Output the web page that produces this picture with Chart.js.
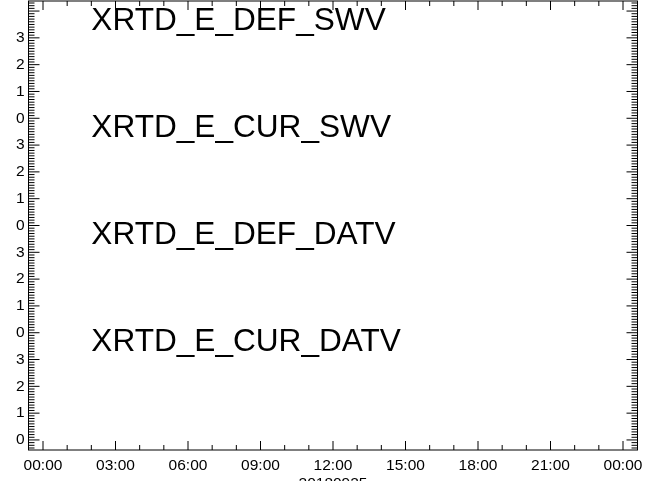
<!DOCTYPE html>
<html>
<head>
<meta charset="utf-8">
<title>XRTD status</title>
<script src="https://cdn.jsdelivr.net/npm/chart.js@4/dist/chart.umd.min.js"></script>
<style>
    html, body { margin: 0; padding: 0; background: #fff; }
    #wrap { width: 660px; height: 481px; position: relative; }
</style>
</head>
<body>
<div id="wrap"><canvas id="statusChart"></canvas></div>
<script>
// panels from bottom to top, each one spans 4 units of the y axis
const panelNames = ['XRTD_E_CUR_DATV', 'XRTD_E_DEF_DATV', 'XRTD_E_CUR_SWV', 'XRTD_E_DEF_SWV'];
const hourTicks = [0, 3, 6, 9, 12, 15, 18, 21, 24];
const hourLabels = ['00:00', '03:00', '06:00', '09:00', '12:00', '15:00', '18:00', '21:00', '00:00'];
const levelTicks = [0, 1, 2, 3, 4, 5, 6, 7, 8, 9, 10, 11, 12, 13, 14, 15, 16];
const levelLabels = ['0', '1', '2', '3'];
const dayLabel = '20180925';

// each panel has no samples for this day
const panelValues = [[], [], [], []];

document.addEventListener('DOMContentLoaded', function () {
    const ctx = document.getElementById('statusChart');
    const font = 'Liberation Sans, Arial, Helvetica, sans-serif';

    Chart.defaults.font.family = font;
    Chart.defaults.color = '#000';

    // inward ticks on all four sides, plus the panel names
    const framePlugin = {
        id: 'frame',
        afterDraw(chart) {
            const c = chart.ctx;
            const a = chart.chartArea;
            const xs = chart.scales.x;
            const ys = chart.scales.y;

            c.save();
            c.strokeStyle = '#000';
            c.lineWidth = 1;
            c.strokeRect(a.left, a.top, a.right - a.left, a.bottom - a.top);

            c.beginPath();
            for (let h = Math.ceil(xs.min); h <= xs.max; h++) {
                const x = xs.getPixelForValue(h);
                const len = hourTicks.includes(h) ? 9 : 5;
                c.moveTo(x, a.bottom); c.lineTo(x, a.bottom - len);
                c.moveTo(x, a.top); c.lineTo(x, a.top + len);
            }
            for (let k = Math.ceil(ys.min * 10); k <= Math.floor(ys.max * 10); k++) {
                const y = ys.getPixelForValue(k / 10);
                const len = k % 10 === 0 ? 11 : 6;
                c.moveTo(a.left, y); c.lineTo(a.left + len, y);
                c.moveTo(a.right, y); c.lineTo(a.right - len, y);
            }
            c.stroke();

            c.fillStyle = '#000';
            c.font = '31.6px ' + font;
            c.textBaseline = 'alphabetic';
            c.textAlign = 'left';
            panelNames.forEach((name, i) => {
                c.fillText(name, xs.getPixelForValue(2), ys.getPixelForValue(i * 4 + 3.3));
            });
            c.restore();
        }
    };

    new Chart(ctx, {
        type: 'scatter',
        data: {
            datasets: panelNames.map((name, i) => ({
                label: name,
                data: panelValues[i].map(p => ({ x: p[0], y: i * 4 + p[1] })),
                borderColor: '#000',
                backgroundColor: '#000',
                pointRadius: 1
            }))
        },
        options: {
            responsive: true,
            maintainAspectRatio: false,
            animation: false,
            layout: {
                padding: { top: 1, right: 22.5, left: 0, bottom: 0 }
            },
            plugins: {
                legend: { display: false },
                tooltip: { enabled: false }
            },
            scales: {
                x: {
                    type: 'linear',
                    min: -0.6,
                    max: 24.6,
                    afterBuildTicks: scale => {
                        scale.ticks = hourTicks.map(v => ({ value: v }));
                    },
                    afterFit: scale => {
                        scale.height = 31;
                        scale.paddingLeft = 0;
                        scale.paddingRight = 0;
                    },
                    grid: { display: false, drawTicks: false },
                    border: { display: false },
                    ticks: {
                        autoSkip: false,
                        maxRotation: 0,
                        padding: 6,
                        font: { size: 15.5 },
                        callback: value => hourLabels[hourTicks.indexOf(value)]
                    },
                    title: {
                        display: true,
                        text: dayLabel,
                        font: { size: 15.5 },
                        padding: { top: 0, bottom: -12 }
                    }
                },
                y: {
                    type: 'linear',
                    min: -0.375,
                    max: 16.375,
                    afterBuildTicks: scale => {
                        scale.ticks = levelTicks.map(v => ({ value: v }));
                    },
                    afterFit: scale => {
                        scale.width = 28.5;
                        scale.paddingTop = 0;
                        scale.paddingBottom = 0;
                    },
                    grid: { display: false, drawTicks: false },
                    border: { display: false },
                    ticks: {
                        autoSkip: false,
                        padding: 4,
                        font: { size: 15.5 },
                        callback: value => value === 16 ? null : levelLabels[value % 4]
                    }
                }
            }
        },
        plugins: [framePlugin]
    });
});
</script>
</body>
</html>
